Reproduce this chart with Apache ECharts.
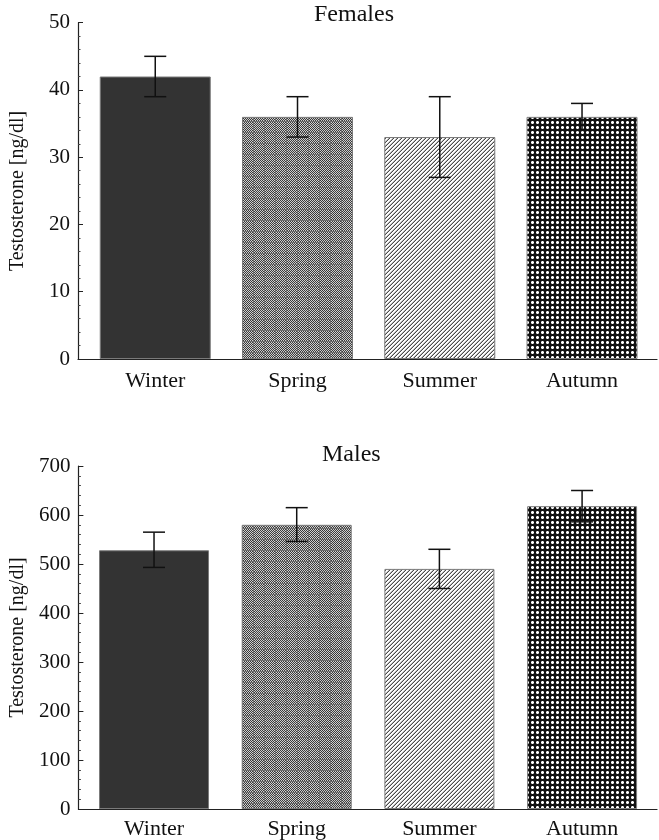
<!DOCTYPE html>
<html>
<head>
<meta charset="utf-8">
<script src="https://cdn.jsdelivr.net/npm/echarts@6/dist/echarts.min.js"></script>
<style>html,body{margin:0;padding:0;background:#fff;}#c{width:659px;height:840px;}</style>
</head>
<body>
<div id="c"></div>
<script>
const categories = ['Winter', 'Spring', 'Summer', 'Autumn'];
const femaleMean = [42, 36, 33, 36];
const femaleLow  = [39, 33, 27, 34];
const femaleHigh = [45, 39, 39, 38];
const maleMean = [528, 580, 490, 618];
const maleLow  = [493, 546, 450, 586];
const maleHigh = [565, 615, 530, 650];
const categoryIndex = [0, 1, 2, 3];

function makeTile(w, h, fn) {
  const c = document.createElement('canvas');
  c.width = w; c.height = h;
  const ctx = c.getContext('2d');
  for (let y = 0; y < h; y++) for (let x = 0; x < w; x++) {
    ctx.fillStyle = fn(x, y);
    ctx.fillRect(x, y, 1, 1);
  }
  return c;
}
const springTile = makeTile(11, 11, (x, y) => {
  if (x === 0 || y === 0) return '#6e6e6e';
  return (x + y) % 2 ? '#3a3a3a' : '#cfcfcf';
});
const summerTile = makeTile(4, 4, (x, y) => {
  const k = (x + y) % 4;
  if (k === 3) return '#4a4a4a';
  if (k === 2) return '#b8b8b8';
  return '#ffffff';
});
const autumnTile = makeTile(5, 5, (x, y) => {
  const inX = x >= 1 && x <= 3, inY = y >= 1 && y <= 3;
  if (inX && inY) {
    const corner = (x === 1 || x === 3) && (y === 1 || y === 3);
    return corner ? '#9a9a9a' : '#ffffff';
  }
  return '#101010';
});
const fills = [
  '#333333',
  { image: springTile, repeat: 'repeat' },
  { image: summerTile, repeat: 'repeat' },
  { image: autumnTile, repeat: 'repeat' }
];

const font = 'Liberation Serif, Times New Roman, serif';

function barData(vals) {
  return vals.map((v, i) => ({ value: [categoryIndex[i], v], itemStyle: { color: fills[i] } }));
}
function errData(lo, hi) {
  return lo.map((l, i) => [categoryIndex[i], l, hi[i]]);
}
function renderErr(params, api) {
  const x = api.value(0), lo = api.value(1), hi = api.value(2);
  const p1 = api.coord([x, hi]);
  const p2 = api.coord([x, lo]);
  const hw = 11;
  const st = { stroke: '#111', lineWidth: 1.5 };
  return {
    type: 'group',
    children: [
      { type: 'line', shape: { x1: p1[0], y1: p1[1], x2: p2[0], y2: p2[1] }, style: st },
      { type: 'line', shape: { x1: p1[0] - hw, y1: p1[1], x2: p1[0] + hw, y2: p1[1] }, style: st },
      { type: 'line', shape: { x1: p2[0] - hw, y1: p2[1], x2: p2[0] + hw, y2: p2[1] }, style: st }
    ]
  };
}

function xAxis(gridIndex, min, max, margin) {
  return {
    type: 'value', gridIndex, min, max,
    splitLine: { show: false },
    axisLine: { show: true, onZero: false, lineStyle: { color: '#222', width: 1.2 } },
    axisTick: { show: false },
    axisLabel: {
      customValues: categoryIndex,
      formatter: v => categories[Math.round(v)],
      fontFamily: font, fontSize: 22, color: '#111', margin
    }
  };
}
function yAxis(gridIndex, max, interval) {
  return {
    type: 'value', gridIndex, min: 0, max, interval,
    name: 'Testosterone [ng/dl]', nameLocation: 'middle', nameGap: 50,
    nameTextStyle: { fontFamily: font, fontSize: 20, color: '#111' },
    splitLine: { show: false },
    axisLine: { show: true, onZero: false, lineStyle: { color: '#222', width: 1.2 } },
    axisTick: { show: true, inside: true, length: 5, lineStyle: { color: '#222' } },
    minorTick: { show: true, splitNumber: 5, length: 2.5, lineStyle: { color: '#444' } },
    axisLabel: { fontFamily: font, fontSize: 21, color: '#111', margin: 8 }
  };
}

const chart = echarts.init(document.getElementById('c'), null, { renderer: 'canvas' });
chart.setOption({
  animation: false,
  backgroundColor: '#fff',
  title: [
    { text: 'Females', left: 309, top: -2, textStyle: { fontFamily: font, fontSize: 24, fontWeight: 'normal', color: '#111' } },
    { text: 'Males', left: 317, top: 438, textStyle: { fontFamily: font, fontSize: 24, fontWeight: 'normal', color: '#111' } }
  ],
  grid: [
    { left: 63, right: 2, top: 22.7, height: 336.3 },
    { left: 76, right: 2, top: 466, height: 343 }
  ],
  xAxis: [xAxis(0, -0.543, 3.527, 11), xAxis(1, -0.53, 3.525, 9)],
  yAxis: [yAxis(0, 50, 10), yAxis(1, 700, 100)],
  series: [
    { type: 'bar', xAxisIndex: 0, yAxisIndex: 0, barWidth: 111, data: barData(femaleMean),
      itemStyle: { borderColor: '#7a7a7a', borderWidth: 1 } },
    { type: 'custom', xAxisIndex: 0, yAxisIndex: 0, renderItem: renderErr, data: errData(femaleLow, femaleHigh),
      encode: { x: 0, y: [1, 2] }, z: 5 },
    { type: 'bar', xAxisIndex: 1, yAxisIndex: 1, barWidth: 110, data: barData(maleMean),
      itemStyle: { borderColor: '#7a7a7a', borderWidth: 1 } },
    { type: 'custom', xAxisIndex: 1, yAxisIndex: 1, renderItem: renderErr, data: errData(maleLow, maleHigh),
      encode: { x: 0, y: [1, 2] }, z: 5 }
  ]
});
</script>
</body>
</html>
